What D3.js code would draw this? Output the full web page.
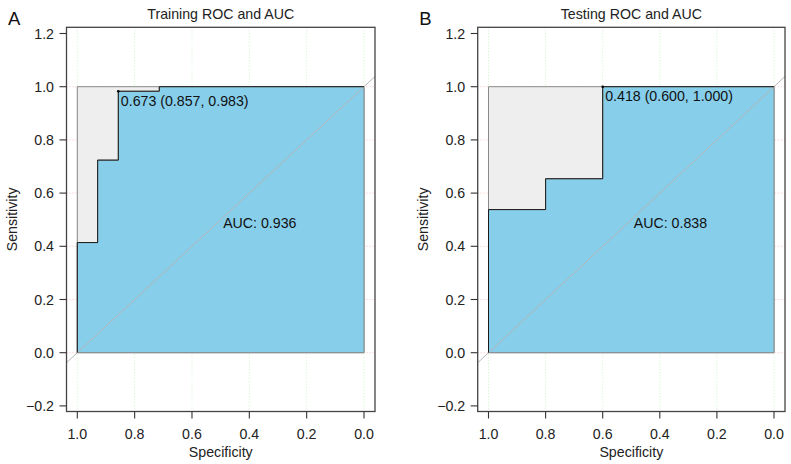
<!DOCTYPE html>
<html>
<head>
<meta charset="utf-8">
<script src="https://cdn.jsdelivr.net/npm/d3@7"></script>
<style>
  html, body { margin: 0; padding: 0; background: #fff; }
  svg { display: block; font-family: "Liberation Sans", Arial, Helvetica, sans-serif; }
</style>
</head>
<body>
<svg id="chart" width="791" height="464"></svg>
<script>
// ---- Data ----
const panelLabels = ["A", "B"];
const panelTitles = ["Training ROC and AUC", "Testing ROC and AUC"];
const xTicks = [1.0, 0.8, 0.6, 0.4, 0.2, 0.0];
const yTicks = [-0.2, 0.0, 0.2, 0.4, 0.6, 0.8, 1.0, 1.2];
const hGrid = [0.0, 0.2, 0.4, 0.6, 0.8, 1.0];
const xTitle = "Specificity";
const yTitle = "Sensitivity";

// Training ROC staircase (specificity, sensitivity)
const trainSpec = [1, 1, 0.929, 0.929, 0.857, 0.857, 0.714, 0.714, 0];
const trainSens = [0, 0.414, 0.414, 0.724, 0.724, 0.983, 0.983, 1, 1];
const trainAUC = "AUC: 0.936";
const trainBest = { threshold: 0.673, spec: 0.857, sens: 0.983 };

// Testing ROC staircase
const testSpec = [1, 1, 0.8, 0.8, 0.6, 0.6, 0];
const testSens = [0, 0.538, 0.538, 0.654, 0.654, 1, 1];
const testAUC = "AUC: 0.838";
const testBest = { threshold: 0.418, spec: 0.600, sens: 1.000 };

const panels = [
  { label: panelLabels[0], title: panelTitles[0], spec: trainSpec, sens: trainSens, auc: trainAUC, best: trainBest, left: 66.5, right: 375 },
  { label: panelLabels[1], title: panelTitles[1], spec: testSpec, sens: testSens, auc: testAUC, best: testBest, left: 477.7, right: 785 }
];

const svg = d3.select("#chart");
const boxTop = 27.3, boxBottom = 411.5;
const fmt = d3.format(".1f");

panels.forEach((p, i) => {
  const g = svg.append("g");
  const w = p.right - p.left;
  const x = d3.scaleLinear().domain([1, 0]).range([p.left + 10.8, p.right - 11]);
  const y = d3.scaleLinear().domain([0, 1]).range([352.7, 86.7]);

  const clipId = "clip" + i;
  g.append("clipPath").attr("id", clipId).append("rect")
    .attr("x", p.left).attr("y", boxTop).attr("width", w).attr("height", boxBottom - boxTop);

  const plot = g.append("g").attr("clip-path", `url(#${clipId})`);

  // grid
  plot.selectAll(".vg").data(xTicks).join("line")
    .attr("x1", d => x(d)).attr("x2", d => x(d))
    .attr("y1", boxTop).attr("y2", boxBottom)
    .attr("stroke", "#c4f2c4").attr("stroke-width", 0.9).attr("stroke-dasharray", "1,2");
  plot.selectAll(".hg").data(hGrid).join("line")
    .attr("y1", d => y(d)).attr("y2", d => y(d))
    .attr("x1", p.left).attr("x2", p.right)
    .attr("stroke", "#f5bcbc").attr("stroke-width", 0.9).attr("stroke-dasharray", "1,2");

  // max AUC polygon
  const sq = [[1, 0], [1, 1], [0, 1], [0, 0]];
  plot.append("polygon")
    .attr("points", sq.map(d => [x(d[0]), y(d[1])].join(",")).join(" "))
    .attr("fill", "#eeeeee").attr("stroke", "#888").attr("stroke-width", 1);

  // AUC polygon
  const pts = p.spec.map((s, k) => [s, p.sens[k]]);
  const poly = pts.concat([[0, 0]]);
  plot.append("polygon")
    .attr("points", poly.map(d => [x(d[0]), y(d[1])].join(",")).join(" "))
    .attr("fill", "#87ceeb").attr("stroke", "#888").attr("stroke-width", 1);

  // diagonal
  plot.append("line")
    .attr("x1", x(1.1)).attr("y1", y(-0.1))
    .attr("x2", x(-0.1)).attr("y2", y(1.1))
    .attr("stroke", "#b5b5b5").attr("stroke-width", 1);

  // ROC curve
  const line = d3.line().x(d => x(d[0])).y(d => y(d[1]));
  plot.append("path").attr("d", line(pts))
    .attr("fill", "none").attr("stroke", "#1a1a1a").attr("stroke-width", 1);

  // best threshold point
  g.append("circle").attr("cx", x(p.best.spec)).attr("cy", y(p.best.sens)).attr("r", 1.3).attr("fill", "#000");
  g.append("text")
    .attr("x", x(p.best.spec) + 2.5).attr("y", y(p.best.sens) + 14.3)
    .attr("font-size", 14.2).attr("fill", "#111")
    .text(`${p.best.threshold.toFixed(3)} (${p.best.spec.toFixed(3)}, ${p.best.sens.toFixed(3)})`);

  // AUC text
  g.append("text")
    .attr("x", x(0.5) + 2.5).attr("y", y(0.5) + 8.5)
    .attr("font-size", 14.2).attr("fill", "#111")
    .text(p.auc);

  // box
  g.append("rect").attr("x", p.left).attr("y", boxTop).attr("width", w).attr("height", boxBottom - boxTop)
    .attr("fill", "none").attr("stroke", "#444").attr("stroke-width", 1.3);

  // y ticks
  g.selectAll(".yt").data(yTicks).join("line")
    .attr("x1", p.left - 7).attr("x2", p.left)
    .attr("y1", d => y(d)).attr("y2", d => y(d))
    .attr("stroke", "#333").attr("stroke-width", 1.1);
  g.selectAll(".yl").data(yTicks).join("text")
    .attr("x", p.left - 12.5).attr("y", d => y(d) + 5)
    .attr("text-anchor", "end").attr("font-size", 14.2).attr("fill", "#222")
    .text(d => fmt(d).replace("-", "\u2212"));

  // x ticks
  g.selectAll(".xt").data(xTicks).join("line")
    .attr("x1", d => x(d)).attr("x2", d => x(d))
    .attr("y1", boxBottom).attr("y2", boxBottom + 7)
    .attr("stroke", "#333").attr("stroke-width", 1.1);
  g.selectAll(".xl").data(xTicks).join("text")
    .attr("x", d => x(d)).attr("y", 438.5)
    .attr("text-anchor", "middle").attr("font-size", 14.2).attr("fill", "#222")
    .text(d => fmt(d));

  // axis titles
  g.append("text").attr("x", (p.left + p.right) / 2).attr("y", 456.5)
    .attr("text-anchor", "middle").attr("font-size", 14.2).attr("fill", "#222").text(xTitle);
  g.append("text")
    .attr("transform", `translate(${p.left - 50},${(boxTop + boxBottom) / 2}) rotate(-90)`)
    .attr("text-anchor", "middle").attr("font-size", 14.2).attr("fill", "#222").text(yTitle);

  // title
  g.append("text").attr("x", (p.left + p.right) / 2).attr("y", 18.5)
    .attr("text-anchor", "middle").attr("font-size", 14.2).attr("fill", "#222").text(p.title);

  // panel label
  g.append("text").attr("x", p.left - 58.5).attr("y", 25)
    .attr("font-size", 18.5).attr("fill", "#111").text(p.label);
});
</script>
</body>
</html>
